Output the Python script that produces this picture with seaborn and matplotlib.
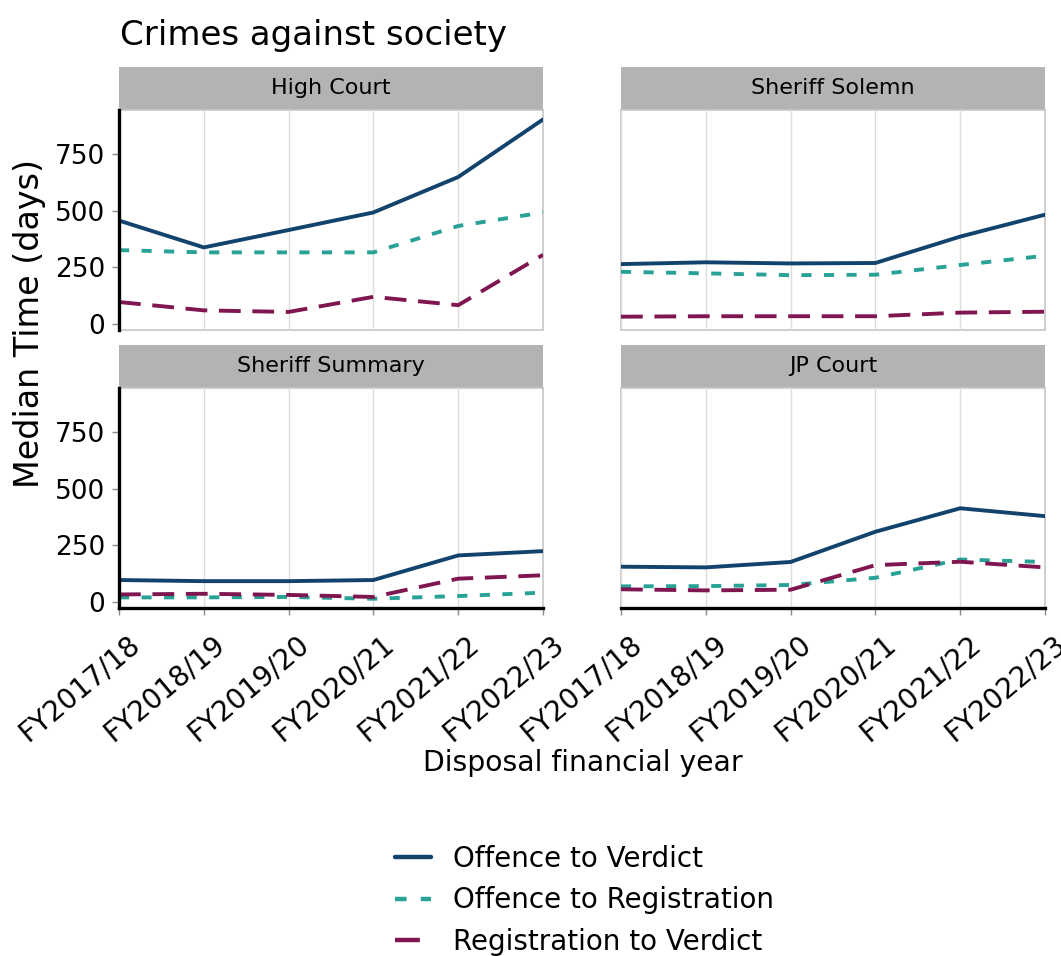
import matplotlib
matplotlib.use("Agg")
import matplotlib.pyplot as plt
import matplotlib.transforms as mtransforms
import pandas as pd
import seaborn as sns

# ---- data -------------------------------------------------------------
years = ["FY2017/18", "FY2018/19", "FY2019/20", "FY2020/21", "FY2021/22", "FY2022/23"]
courts = ["High Court", "Sheriff Solemn", "Sheriff Summary", "JP Court"]
measures = ["Offence to Verdict", "Offence to Registration", "Registration to Verdict"]

high_court_otv = [457, 338, 415, 493, 650, 905]
high_court_otr = [326, 316, 316, 316, 433, 493]
high_court_rtv = [96, 59, 52, 119, 82, 305]

sheriff_solemn_otv = [264, 272, 267, 269, 386, 483]
sheriff_solemn_otr = [230, 223, 215, 217, 260, 301]
sheriff_solemn_rtv = [31, 33, 33, 33, 49, 53]

sheriff_summary_otv = [96, 91, 91, 96, 205, 224]
sheriff_summary_otr = [19, 19, 21, 13, 25, 40]
sheriff_summary_rtv = [32, 35, 30, 21, 102, 117]

jp_court_otv = [155, 152, 176, 310, 414, 379]
jp_court_otr = [68, 69, 74, 106, 187, 176]
jp_court_rtv = [55, 50, 53, 162, 177, 152]

series = {
    "High Court": [high_court_otv, high_court_otr, high_court_rtv],
    "Sheriff Solemn": [sheriff_solemn_otv, sheriff_solemn_otr, sheriff_solemn_rtv],
    "Sheriff Summary": [sheriff_summary_otv, sheriff_summary_otr, sheriff_summary_rtv],
    "JP Court": [jp_court_otv, jp_court_otr, jp_court_rtv],
}

rows = []
for court in courts:
    for measure, values in zip(measures, series[court]):
        for year, v in zip(years, values):
            rows.append({"court": court, "measure": measure, "year": year, "days": v})
df = pd.DataFrame(rows)

# ---- styling ----------------------------------------------------------
sns.set_theme(style="white")
plt.rcParams["font.family"] = ["DejaVu Sans"]
plt.rcParams["text.color"] = "black"

palette = {
    "Offence to Verdict": "#12436D",
    "Offence to Registration": "#28A197",
    "Registration to Verdict": "#801650",
}
dashes = {
    "Offence to Verdict": "",
    "Offence to Registration": (2.6, 3.2),
    "Registration to Verdict": (5.6, 3.0),
}
LW = 2.8

W, H = 1061, 956
fig = plt.figure(figsize=(W / 100, H / 100), dpi=100)


def box(x0, y0, x1, y1):
    return [x0 / W, 1 - y1 / H, (x1 - x0) / W, (y1 - y0) / H]


cols = [(119, 543), (621, 1045)]
rows_px = [(67, 110, 330), (345, 388, 608)]
label_shift = mtransforms.ScaledTranslation(8 / 100, -8 / 100, fig.dpi_scale_trans)

handles = labels = None
for i, court in enumerate(courts):
    r, c = divmod(i, 2)
    x0, x1 = cols[c]
    s0, p0, p1 = rows_px[r]

    # facet strip
    sax = fig.add_axes(box(x0, s0, x1, p0))
    sax.set_facecolor("#b3b3b3")
    for sp in sax.spines.values():
        sp.set_visible(False)
    sax.set_xticks([])
    sax.set_yticks([])
    sax.text(0.5, 0.5, court, ha="center", va="center", fontsize=16, color="black",
             transform=sax.transAxes)

    ax = fig.add_axes(box(x0, p0, x1, p1))
    sub = df[df["court"] == court]
    sns.lineplot(data=sub, x="year", y="days", hue="measure", style="measure",
                 hue_order=measures, style_order=measures, palette=palette,
                 dashes=dashes, linewidth=LW, sort=False, ax=ax, legend=(i == 0))
    if i == 0:
        handles, labels = ax.get_legend_handles_labels()
        ax.get_legend().remove()

    ax.set_xlim(0, len(years) - 1)
    ax.set_ylim(-28, 947)
    ax.set_yticks([0, 250, 500, 750])
    ax.set_xticks(range(len(years)))
    ax.set_xlabel("")
    ax.set_ylabel("")
    ax.grid(axis="x", color="#dcdcdc", linewidth=1.0)
    ax.grid(axis="y", visible=False)
    ax.set_axisbelow(True)

    for sp in ax.spines.values():
        sp.set_color("#c6c6c6")
        sp.set_linewidth(1.2)
        sp.set_zorder(0.5)

    if c == 0:
        ax.spines["left"].set_color("black")
        ax.spines["left"].set_linewidth(2.4)
        ax.spines["left"].set_zorder(3)
        ax.tick_params(axis="y", left=True, length=5, width=1, color="#8c8c8c",
                       labelsize=19, pad=5, labelcolor="black")
    else:
        ax.tick_params(axis="y", left=False, labelleft=False)

    if r == 1:
        ax.spines["bottom"].set_color("black")
        ax.spines["bottom"].set_linewidth(2.4)
        ax.spines["bottom"].set_zorder(3)
        ax.set_xticklabels(years)
        ax.tick_params(axis="x", bottom=True, length=5, width=1, color="#8c8c8c",
                       labelsize=20, pad=5, labelcolor="black")
        for lab in ax.get_xticklabels():
            lab.set_rotation(40)
            lab.set_ha("right")
            lab.set_va("top")
            lab.set_rotation_mode("anchor")
            lab.set_transform(lab.get_transform() + label_shift)
    else:
        ax.tick_params(axis="x", bottom=False, labelbottom=False)

# ---- titles and axis labels ------------------------------------------
fig.text(120 / W, 1 - 35 / H, "Crimes against society", fontsize=24.5, ha="left",
         va="center", color="black")
fig.text(30 / W, 1 - 323 / H, "Median Time (days)", fontsize=24, rotation=90,
         ha="center", va="center", color="black")
fig.text(583 / W, 1 - 763 / H, "Disposal financial year", fontsize=20.3, ha="center",
         va="center", color="black")

leg = fig.legend(handles, labels, loc="upper left", bbox_to_anchor=(384 / W, 1 - 834 / H),
                 frameon=False, fontsize=20, handlelength=1.3, handletextpad=0.78,
                 labelspacing=0.48, borderaxespad=0)
for t in leg.get_texts():
    t.set_color("black")
for line in leg.get_lines():
    line.set_linewidth(LW + 0.4)

fig.savefig("out.png", dpi=100)
